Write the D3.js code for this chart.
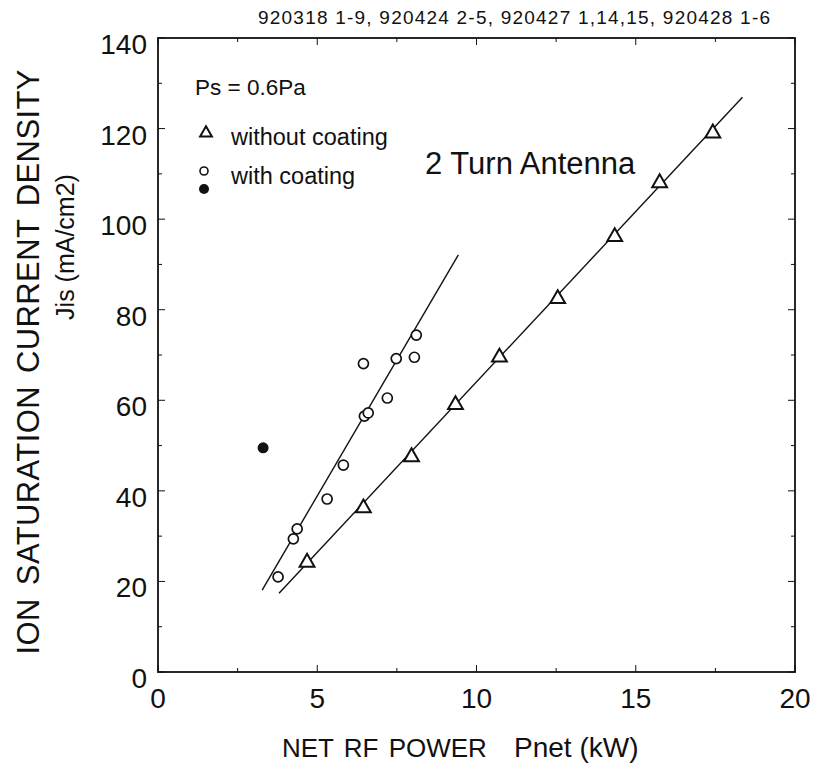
<!DOCTYPE html>
<html>
<head>
<meta charset="utf-8">
<script src="https://cdn.jsdelivr.net/npm/d3@7"></script>
<style>
  body { margin: 0; background: #fff; }
  text { font-family: "Liberation Sans", Arial, sans-serif; fill: #111; }
</style>
</head>
<body>
<svg width="813" height="773"></svg>
<script>
// values
var withoutX = [4.68, 6.45, 7.96, 9.34, 10.72, 12.55, 14.34, 15.75, 17.42];
var withoutY = [24.2, 36.2, 47.5, 59.0, 69.5, 82.4, 96.1, 108.0, 119.0];
var withX = [3.77, 4.25, 4.37, 5.31, 5.82, 6.48, 6.6, 7.2, 6.45, 7.48, 8.05, 8.11];
var withY = [21.0, 29.4, 31.6, 38.2, 45.7, 56.5, 57.2, 60.5, 68.1, 69.2, 69.5, 74.4];
var filledX = [3.3];
var filledY = [49.5];
var fitWithout = [[3.8, 17.4], [18.35, 126.9]];
var fitWith = [[3.27, 18.1], [9.43, 92.1]];
var xTicks = [0, 5, 10, 15, 20];
var yTicks = [0, 20, 40, 60, 80, 100, 120, 140];

var margin = {top: 38, right: 18, bottom: 101, left: 158};
var width = 813 - margin.left - margin.right;
var height = 773 - margin.top - margin.bottom;

var page = d3.select("svg");
var svg = page
  .append("g")
  .attr("transform", "translate(" + margin.left + "," + margin.top + ")");

var x = d3.scaleLinear().domain([0, 20]).range([0, width]);
var y = d3.scaleLinear().domain([0, 140]).range([height, 0]);

// frame
svg.append("rect")
  .attr("width", width).attr("height", height)
  .attr("fill", "none").attr("stroke", "#111").attr("stroke-width", 1.8);

// ticks (inward, on all sides)
var xMinor = d3.range(0, 20.01, 2.5);
var yMinor = d3.range(0, 140.01, 10);
xMinor.forEach(function(v) {
  var len = v % 5 === 0 ? 7 : 4;
  svg.append("line").attr("x1", x(v)).attr("x2", x(v)).attr("y1", height).attr("y2", height - len).attr("stroke", "#111");
  svg.append("line").attr("x1", x(v)).attr("x2", x(v)).attr("y1", 0).attr("y2", len).attr("stroke", "#111");
});
yMinor.forEach(function(v) {
  var len = v % 20 === 0 ? 7 : 4;
  svg.append("line").attr("y1", y(v)).attr("y2", y(v)).attr("x1", 0).attr("x2", len).attr("stroke", "#111");
  svg.append("line").attr("y1", y(v)).attr("y2", y(v)).attr("x1", width).attr("x2", width - len).attr("stroke", "#111");
});

svg.selectAll(".xl").data(xTicks).enter().append("text")
  .attr("x", function(d) { return x(d); })
  .attr("y", height + 36)
  .attr("text-anchor", "middle")
  .style("font-size", "28px")
  .text(function(d) { return d; });

svg.selectAll(".yl").data(yTicks).enter().append("text")
  .attr("x", -11)
  .attr("y", function(d) { return y(d) + 16; })
  .attr("text-anchor", "end")
  .style("font-size", "28px")
  .text(function(d) { return d; });

// fit lines
var line = d3.line().x(function(d) { return x(d[0]); }).y(function(d) { return y(d[1]); });
[fitWithout, fitWith].forEach(function(f) {
  svg.append("path").attr("d", line(f)).attr("fill", "none").attr("stroke", "#111").attr("stroke-width", 1.4);
});

var tri = d3.symbol().type(d3.symbolTriangle).size(95);
svg.selectAll(".tri").data(withoutX).enter().append("path")
  .attr("d", tri)
  .attr("transform", function(d, i) { return "translate(" + x(d) + "," + y(withoutY[i]) + ")"; })
  .attr("fill", "#fff").attr("stroke", "#111").attr("stroke-width", 2);

svg.selectAll(".circ").data(withX).enter().append("circle")
  .attr("cx", function(d) { return x(d); })
  .attr("cy", function(d, i) { return y(withY[i]); })
  .attr("r", 5)
  .attr("fill", "#fff").attr("stroke", "#111").attr("stroke-width", 1.7);

svg.selectAll(".fill").data(filledX).enter().append("circle")
  .attr("cx", function(d) { return x(d); })
  .attr("cy", function(d, i) { return y(filledY[i]); })
  .attr("r", 5.5)
  .attr("fill", "#111");

// legend (page coordinates)
page.append("text").attr("x", 195).attr("y", 95).style("font-size", "22.5px").text("Ps = 0.6Pa");
page.append("path").attr("d", d3.symbol().type(d3.symbolTriangle).size(60))
  .attr("transform", "translate(206,133)").attr("fill", "#fff").attr("stroke", "#111").attr("stroke-width", 2);
page.append("text").attr("x", 231).attr("y", 145).style("font-size", "23.5px").text("without coating");
page.append("circle").attr("cx", 204).attr("cy", 171).attr("r", 4).attr("fill", "#fff").attr("stroke", "#111").attr("stroke-width", 1.6);
page.append("text").attr("x", 231).attr("y", 184).style("font-size", "23.5px").text("with coating");
page.append("circle").attr("cx", 204).attr("cy", 189).attr("r", 5).attr("fill", "#111");

page.append("text").attr("x", 425).attr("y", 174).style("font-size", "31px").text("2 Turn Antenna");

// header
page.append("text")
  .attr("x", 258).attr("y", 24)
  .attr("textLength", 512)
  .style("font-size", "19px")
  .text("920318 1-9, 920424 2-5, 920427 1,14,15, 920428 1-6");

// axis titles
page.append("text")
  .attr("transform", "translate(39,362) rotate(-90)")
  .attr("text-anchor", "middle")
  .attr("textLength", 585)
  .style("font-size", "31px")
  .style("word-spacing", "4px")
  .text("ION SATURATION CURRENT DENSITY");
page.append("text")
  .attr("transform", "translate(74,247) rotate(-90)")
  .attr("text-anchor", "middle")
  .style("font-size", "25px")
  .text("Jis (mA/cm2)");

page.append("text")
  .attr("x", 282).attr("y", 757)
  .style("font-size", "26px")
  .style("word-spacing", "3px")
  .text("NET RF POWER");
page.append("text")
  .attr("x", 514).attr("y", 757)
  .style("font-size", "28px")
  .text("Pnet (kW)");
</script>
</body>
</html>
